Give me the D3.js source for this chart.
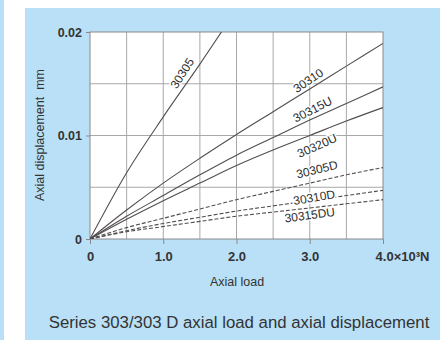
<!DOCTYPE html>
<html>
<head>
<meta charset="utf-8">
<script src="https://cdn.jsdelivr.net/npm/d3@7"></script>
<style>
  body { margin: 0; background: #fff; }
  svg { display: block; font-family: "Liberation Sans", Arial, sans-serif; }
</style>
</head>
<body>
<script>
// loads in 10^3 N
const loads = [0, 0.5, 1.0, 1.5, 2.0, 2.5, 3.0, 3.5, 4.0];

// axial displacement, mm
const s30305   = [0, 0.0064, 0.0118, 0.0169, 0.0222];
const s30310   = [0, 0.0028, 0.0054, 0.0078, 0.0101, 0.0123, 0.0145, 0.0167, 0.0189];
const s30315U  = [0, 0.0022, 0.0042, 0.0062, 0.0081, 0.0098, 0.0115, 0.0131, 0.0147];
const s30320U  = [0, 0.0019, 0.0037, 0.0054, 0.0071, 0.0086, 0.0100, 0.0114, 0.0127];
const s30305D  = [0, 0.0011, 0.0020, 0.0029, 0.0038, 0.0046, 0.0054, 0.0062, 0.0069];
const s30310D  = [0, 0.0008, 0.0015, 0.0021, 0.0027, 0.0032, 0.0037, 0.0042, 0.0047];
const s30315DU = [0, 0.0007, 0.0012, 0.0017, 0.0022, 0.0026, 0.0030, 0.0034, 0.0038];

const seriesNames = ["30305", "30310", "30315U", "30320U", "30305D", "30310D", "30315DU"];
const seriesDashed = [false, false, false, false, true, true, true];

const xTicks = [0, 1, 2, 3, 4];
const xTickLabels = ["0", "1.0", "2.0", "3.0", "4.0×10³N"];
const yTicks = [0, 0.01, 0.02];
const yTickLabels = ["0", "0.01", "0.02"];

// label anchor (load, displacement) for each series
const labelAt = [[1.26, 0.0160], [2.98, 0.0153], [3.04, 0.0125], [3.10, 0.0090], [3.10, 0.0067], [3.06, 0.0040], [3.00, 0.0023]];

function draw() {
  const W = 443, H = 340;
  const margin = { top: 32, left: 90 };
  const width = 383 - 90, height = 239 - 32;

  const svg = d3.select("body").append("svg").attr("width", W).attr("height", H);

  // background panels
  svg.append("rect").attr("x", 0).attr("y", 0).attr("width", 4).attr("height", H).attr("fill", "#b9e0f6");
  svg.append("rect").attr("x", 25).attr("y", 8).attr("width", 415).attr("height", H - 8).attr("fill", "#b9e0f6");

  const x = d3.scaleLinear().domain([0, 4]).range([0, width]);
  const y = d3.scaleLinear().domain([0, 0.02]).range([height, 0]);

  const g = svg.append("g").attr("transform", "translate(" + margin.left + "," + margin.top + ")");

  g.append("clipPath").attr("id", "plot-clip").append("rect")
    .attr("width", width).attr("height", height);

  g.append("rect").attr("width", width).attr("height", height).attr("fill", "#fff");

  // grid
  g.selectAll(".vgrid").data(d3.range(0.5, 4, 0.5)).enter().append("line")
    .attr("x1", d => x(d)).attr("x2", d => x(d)).attr("y1", 0).attr("y2", height)
    .attr("stroke", "#a8a8a8").attr("stroke-width", 1);
  g.selectAll(".hgrid").data([0.005, 0.01, 0.015]).enter().append("line")
    .attr("x1", 0).attr("x2", width).attr("y1", d => y(d)).attr("y2", d => y(d))
    .attr("stroke", "#a8a8a8").attr("stroke-width", 1);
  g.append("rect").attr("width", width).attr("height", height)
    .attr("fill", "none").attr("stroke", "#8a8a8a").attr("stroke-width", 1);

  // axes
  const xAxis = d3.axisBottom(x).tickValues(xTicks).tickSize(5).tickPadding(8)
    .tickFormat((d, i) => xTickLabels[i]);
  const gx = g.append("g").attr("transform", "translate(0," + height + ")").call(xAxis);
  gx.select(".domain").remove();
  gx.selectAll("line").attr("stroke", "#8a8a8a");
  gx.selectAll("text").attr("font-size", 13).attr("font-weight", "bold").attr("fill", "#333");
  gx.selectAll(".tick").filter((d, i) => i === 4).select("text").attr("dx", 19);

  const yAxis = d3.axisLeft(y).tickValues(yTicks).tickSize(4).tickPadding(4)
    .tickFormat((d, i) => yTickLabels[i]);
  const gy = g.append("g").call(yAxis);
  gy.select(".domain").remove();
  gy.selectAll("line").attr("stroke", "#8a8a8a");
  gy.selectAll("text").attr("font-size", 12.5).attr("font-weight", "bold").attr("fill", "#333");

  // series lines
  const allSeries = [s30305, s30310, s30315U, s30320U, s30305D, s30310D, s30315DU];
  const line = d3.line().x((d, i) => x(loads[i])).y(d => y(d)).curve(d3.curveMonotoneX);
  const lines = g.append("g").attr("clip-path", "url(#plot-clip)");
  allSeries.forEach((s, k) => {
    lines.append("path").datum(s).attr("d", line)
      .attr("fill", "none").attr("stroke", "#524e4f").attr("stroke-width", 1.1)
      .attr("stroke-dasharray", seriesDashed[k] ? "4,2" : null);
  });

  // labels rotated along their lines
  seriesNames.forEach((name, k) => {
    const s = allSeries[k];
    const n = s.length - 1;
    const dx = x(loads[n]) - x(loads[0]);
    const dy = y(s[n]) - y(s[0]);
    const ang = Math.atan2(dy, dx) * 180 / Math.PI;
    const p = labelAt[k];
    g.append("text")
      .attr("transform", "translate(" + x(p[0]) + "," + y(p[1]) + ") rotate(" + ang + ")")
      .attr("text-anchor", "middle").attr("dominant-baseline", "central")
      .attr("font-size", 12).attr("fill", "#2e2e2e")
      .attr("stroke", "#fff").attr("stroke-width", 3).attr("paint-order", "stroke")
      .text(name);
  });

  // axis titles
  svg.append("text").attr("x", 237).attr("y", 286).attr("text-anchor", "middle")
    .attr("font-size", 12.5).attr("fill", "#333").text("Axial load");
  svg.append("text").attr("transform", "translate(40,135) rotate(-90)")
    .attr("text-anchor", "middle").attr("dominant-baseline", "central")
    .attr("font-size", 12.5).attr("fill", "#333").attr("xml:space", "preserve")
    .text("Axial displacement  mm");

  // caption
  svg.append("text").attr("x", 239).attr("y", 328).attr("text-anchor", "middle")
    .attr("font-size", 16.8).attr("fill", "#333")
    .text("Series 303/303 D axial load and axial displacement");
}

window.addEventListener("load", draw);
</script>
</body>
</html>
